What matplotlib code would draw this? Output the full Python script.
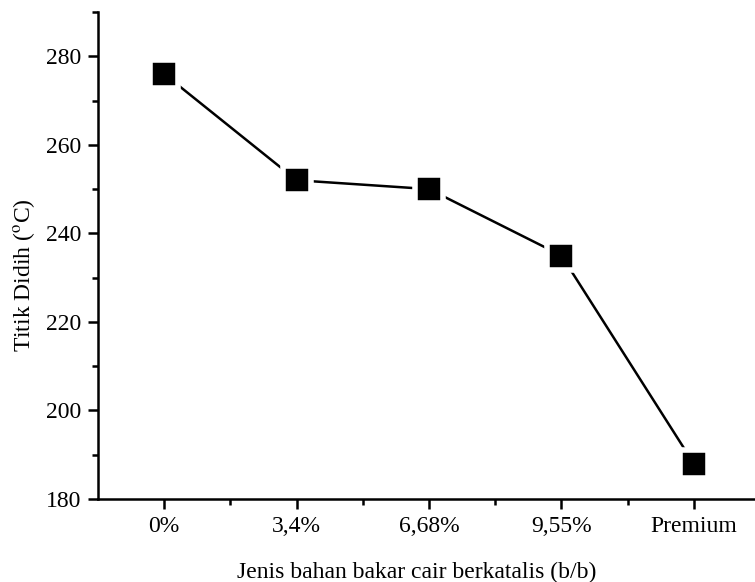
import matplotlib.pyplot as plt
from matplotlib.ticker import MultipleLocator, FixedLocator

# Data
categories = ['0%', '3,4%', '6,68%', '9,55%', 'Premium']
boiling_point = [276, 252, 250, 235, 188]

plt.rcParams['font.family'] = 'Liberation Serif'
plt.rcParams['mathtext.fontset'] = 'stix'

fig = plt.figure(figsize=(7.55, 5.82), dpi=100)
ax = fig.add_axes([98 / 755, 83 / 582, 662 / 755, 487 / 582])

x = list(range(len(categories)))
ax.plot(x, boiling_point, color='black', lw=1.8, marker='s', markersize=20,
        markerfacecolor='black', markeredgecolor='white', markeredgewidth=4,
        clip_on=False)

ax.set_xlim(-0.5, 4.5)
ax.set_ylim(180, 290)
ax.set_xticks(x)
ax.set_xticklabels(categories)
ax.xaxis.set_minor_locator(FixedLocator([0.5, 1.5, 2.5, 3.5]))
ax.yaxis.set_major_locator(FixedLocator([180, 200, 220, 240, 260, 280]))
ax.yaxis.set_minor_locator(MultipleLocator(10))

for side in ['top', 'right']:
    ax.spines[side].set_visible(False)
for side in ['left', 'bottom']:
    ax.spines[side].set_linewidth(1.8)

ax.tick_params(which='major', direction='out', length=7, width=1.8,
               labelsize=17, pad=5)
ax.tick_params(which='minor', direction='out', length=4.5, width=1.8)

ax.set_xlabel('Jenis bahan bakar cair berkatalis (b/b)', fontsize=17)
ax.set_ylabel('Titik Didih ($^{\\rm o}$C)', fontsize=17)
ax.xaxis.set_label_coords(0.482, -0.15, transform=ax.transAxes)
ax.yaxis.set_label_coords(-0.112, 0.46, transform=ax.transAxes)
ax.xaxis.label.set_va('center')
ax.yaxis.label.set_va('center')

fig.savefig('out.png', dpi=100)
